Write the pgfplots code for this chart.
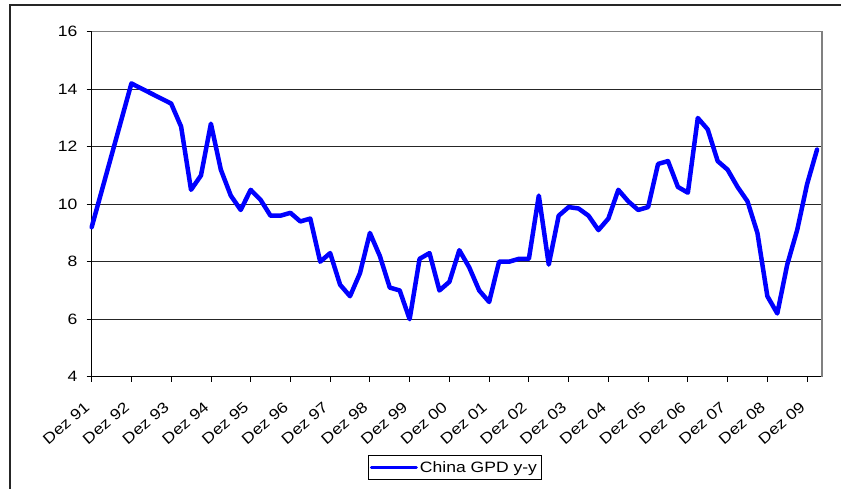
\documentclass[border=0pt]{standalone}
\usepackage{fontspec}
\setmainfont{Liberation Sans}[FakeStretch=1.17]
\usepackage{pgfplots}
\pgfplotsset{compat=1.18}
\definecolor{lineblue}{RGB}{0,0,255}
\definecolor{bordergray}{RGB}{128,128,128}
\begin{document}
\begin{tikzpicture}
\useasboundingbox (0pt,0pt) rectangle (841pt,-488pt);
\draw[line width=1.3pt, black!85] (10pt,-492pt) -- (10pt,-5pt) -- (845pt,-5pt);
\begin{axis}[
  at={(91.67pt,-376.7pt)}, anchor=south west,
  scale only axis, width=730.33pt, height=345pt,
  xmin=0, xmax=73.5, ymin=4, ymax=16,
  ytick={4,6,...,16},
  xtick={0,4,...,72},
  xticklabels={Dez 91,Dez 92,Dez 93,Dez 94,Dez 95,Dez 96,Dez 97,Dez 98,Dez 99,Dez 00,Dez 01,Dez 02,Dez 03,Dez 04,Dez 05,Dez 06,Dez 07,Dez 08,Dez 09},
  axis x line*=bottom, axis y line*=left,
  axis line style={black, line width=1pt, -},
  tick align=outside,
  major tick length=5pt,
  tick style={black, line width=0.8pt},
  ymajorgrids,
  major grid style={black!85, line width=0.8pt},
  /pgf/number format/assume math mode=true,
  tick label style={font=\fontsize{15}{17}\selectfont},
  yticklabel style={inner sep=0pt, xshift=-9pt},
  xticklabel style={rotate=41, anchor=north east, inner sep=1pt, xshift=-17.5pt, yshift=-8pt},
  legend style={at={(0.4968,-0.227)}, anchor=north, draw=black, line width=0.8pt,
    font=\fontsize{15}{17}\selectfont, inner xsep=2pt, inner ysep=4pt},
  legend image code/.code={\draw[#1, line width=3pt] (0pt,0pt) -- (45pt,0pt);},
  clip=false,
]
\addplot[color=lineblue, line width=4.5pt, line join=round, line cap=round] coordinates {
(0,9.2) (4,14.2) (8,13.5) (9,12.7) (10,10.5) (11,11.0) (12,12.8) (13,11.2)
(14,10.3) (15,9.8) (16,10.5) (17,10.15) (18,9.6) (19,9.6) (20,9.7) (21,9.4)
(22,9.5) (23,8.0) (24,8.3) (25,7.2) (26,6.8) (27,7.6) (28,9.0) (29,8.2)
(30,7.1) (31,7.0) (32,6.0) (33,8.1) (34,8.3) (35,7.0) (36,7.3) (37,8.4)
(38,7.8) (39,7.0) (40,6.6) (41,8.0) (42,8.0) (43,8.1) (44,8.1) (45,10.3)
(46,7.9) (47,9.6) (48,9.9) (49,9.85) (50,9.6) (51,9.1) (52,9.5) (53,10.5)
(54,10.1) (55,9.8) (56,9.9) (57,11.4) (58,11.5) (59,10.6) (60,10.4) (61,13.0)
(62,12.6) (63,11.5) (64,11.2) (65,10.6) (66,10.1) (67,9.0) (68,6.8) (69,6.2)
(70,7.9) (71,9.1) (72,10.7) (73,11.9)
};
\addlegendentry{China GPD y-y}
\draw[bordergray, line width=1.5pt] (axis description cs:0,1) -- (axis description cs:1,1) -- (axis description cs:1,0);
\end{axis}
\end{tikzpicture}
\end{document}
